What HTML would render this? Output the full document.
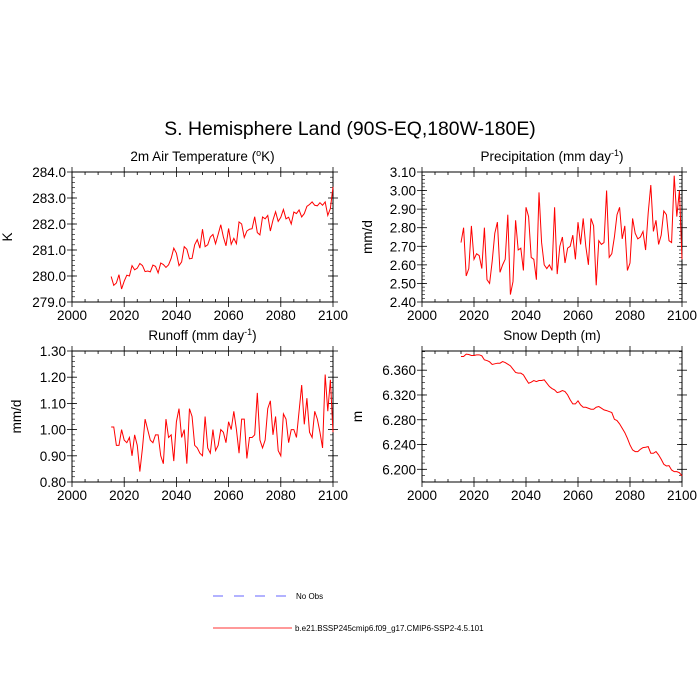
<!DOCTYPE html>
<html><head><meta charset="utf-8"><style>
body{margin:0;background:#fff;}
svg{display:block;font-family:"Liberation Sans",Arial,sans-serif;}
</style></head><body>
<svg id="chart" width="700" height="700" viewBox="0 0 700 700" xmlns="http://www.w3.org/2000/svg">
<rect width="700" height="700" fill="#fff"/>
<text x="350" y="135" font-size="19.4" text-anchor="middle">S. Hemisphere Land (90S-EQ,180W-180E)</text>
<g id="panels"></g>
<g>
<line x1="213" y1="596" x2="287" y2="596" stroke="#6666ff" stroke-width="1" stroke-dasharray="10,11"/>
<text x="296" y="599" font-size="8">No Obs</text>
<line x1="213" y1="628" x2="292" y2="628" stroke="#ff3333" stroke-width="1"/>
<text x="295" y="631" font-size="8">b.e21.BSSP245cmip6.f09_g17.CMIP6-SSP2-4.5.101</text>
</g>
</svg>
<script>
const years = []; for (let y = 2015; y <= 2100; y++) years.push(y);
const xTicks = [2000, 2020, 2040, 2060, 2080, 2100];
const tempValues = [279.98,279.64,279.73,280.05,279.5,279.8,280.03,280.0,280.4,280.24,280.3,280.48,280.4,280.17,280.19,280.16,280.42,280.37,280.12,280.5,280.44,280.33,280.43,280.68,281.07,280.88,280.4,280.54,281.13,281.03,280.66,280.68,281.2,281.4,281.07,281.8,281.13,281.2,281.5,281.6,281.24,281.6,281.97,281.5,281.16,281.83,281.22,281.45,281.24,282.08,282.0,281.48,281.73,281.8,281.82,282.28,281.67,281.58,282.27,282.2,282.33,281.73,282.15,282.47,282.1,282.26,282.56,282.2,282.26,282.0,282.46,282.4,282.54,282.27,282.4,282.68,282.75,282.85,282.72,282.7,282.82,282.72,282.85,282.33,282.6,283.43];
const precValues = [2.72,2.80,2.54,2.58,2.81,2.63,2.66,2.65,2.58,2.80,2.52,2.50,2.62,2.77,2.83,2.56,2.60,2.63,2.87,2.44,2.51,2.84,2.68,2.69,2.57,2.91,2.86,2.64,2.63,2.52,2.99,2.72,2.60,2.58,2.60,2.57,2.91,2.55,2.70,2.75,2.61,2.69,2.70,2.76,2.63,2.83,2.71,2.85,2.70,2.60,2.85,2.81,2.49,2.73,2.71,2.72,3.00,2.64,2.66,2.75,2.87,2.91,2.74,2.81,2.57,2.61,2.85,2.77,2.74,2.75,2.78,2.68,2.88,3.03,2.78,2.84,2.71,2.76,2.89,2.87,2.73,2.72,3.08,2.86,3.00,2.63];
const runoffValues = [1.01,1.01,0.94,0.94,1.00,0.96,0.95,0.97,0.90,0.98,0.94,0.84,0.93,1.04,1.00,0.96,0.95,0.98,0.98,0.90,0.87,1.04,0.97,0.98,0.88,1.03,1.08,0.97,1.00,0.87,1.08,1.05,0.94,0.93,0.91,0.90,1.05,0.93,0.91,1.00,0.92,0.94,1.00,0.99,0.95,1.03,1.00,1.07,1.00,0.91,1.04,1.04,0.89,0.97,0.97,0.98,1.14,0.96,0.93,0.96,1.08,1.11,0.98,1.05,0.92,0.90,1.06,1.04,0.95,1.00,1.00,0.97,1.07,1.17,1.02,1.12,0.99,0.97,1.07,1.04,0.99,0.93,1.21,1.07,1.19,0.99];
const snowValues = [6.3821,6.3821,6.3859,6.3853,6.3837,6.3837,6.3848,6.3848,6.3832,6.3767,6.3756,6.3735,6.3692,6.3703,6.3713,6.3713,6.3740,6.3724,6.3697,6.3670,6.3616,6.3563,6.3552,6.3552,6.3525,6.3455,6.3390,6.3406,6.3433,6.3417,6.3433,6.3433,6.3444,6.3390,6.3336,6.3304,6.3282,6.3239,6.3250,6.3272,6.3255,6.3202,6.3121,6.3056,6.3056,6.3105,6.3040,6.3002,6.3002,6.2986,6.2970,6.2970,6.3002,6.3013,6.2986,6.2959,6.2948,6.2932,6.2916,6.2808,6.2787,6.2733,6.2663,6.2593,6.2501,6.2393,6.2313,6.2286,6.2286,6.2323,6.2350,6.2356,6.2366,6.2259,6.2259,6.2286,6.2232,6.2162,6.2081,6.2054,6.2059,6.1989,6.1962,6.1962,6.1946,6.1892];
const tempTicks = [279,280,281,282,283,284];
const precTicks = [2.4,2.5,2.6,2.7,2.8,2.9,3.0,3.1];
const runoffTicks = [0.8,0.9,1.0,1.1,1.2,1.3];
const snowTicks = [6.2,6.24,6.28,6.32,6.36];

const NS = "http://www.w3.org/2000/svg";
const root = document.getElementById('panels');
const FS = 13.5;
function mk(tag, attrs, parent) {
  const e = document.createElementNS(NS, tag);
  for (const k in attrs) e.setAttribute(k, attrs[k]);
  parent.appendChild(e); return e;
}
function panel(cfg) {
  const g = mk('g', {}, root);
  
  
  const L = cfg.x0, R = cfg.x1, T = cfg.y0, B = cfg.y1;
  const xs = v => L + (v - 2000) / 100 * (R - L);
  const ys = v => B - (v - cfg.ymin) / (cfg.ymax - cfg.ymin) * (B - T);
  mk('rect', {x: L, y: T, width: R - L, height: B - T, fill: 'none', stroke: '#000', 'stroke-width': 1}, g);
  for (let yr = 2000; yr <= 2100; yr += 5) {
    const x = xs(yr), major = yr % 20 === 0;
    const len = major ? 5 : 3;
    mk('line', {x1: x, y1: B, x2: x, y2: B - len, stroke: '#000', 'stroke-width': 0.8}, g);
    mk('line', {x1: x, y1: T, x2: x, y2: T + len, stroke: '#000', 'stroke-width': 0.8}, g);
    if (major) {
      mk('line', {x1: x, y1: B, x2: x, y2: B + 5, stroke: '#000', 'stroke-width': 0.8}, g);
      mk('line', {x1: x, y1: T, x2: x, y2: T - 5, stroke: '#000', 'stroke-width': 0.8}, g);
    }
  }
  xTicks.forEach(v => {
    const t = mk('text', {x: xs(v), y: B + 18, 'font-size': FS, 'text-anchor': 'middle'}, g);
    
    
    t.textContent = v;
  });
  const step = cfg.ticks[1] - cfg.ticks[0];
  const mstep = step / cfg.minor;
  for (let v = cfg.ticks[0] - step; v <= cfg.ymax + 1e-9; v += mstep) {
    if (v < cfg.ymin - 1e-9) continue;
    const y = ys(v);
    mk('line', {x1: L, y1: y, x2: L + 3, y2: y, stroke: '#000', 'stroke-width': 0.6}, g);
    mk('line', {x1: R, y1: y, x2: R - 3, y2: y, stroke: '#000', 'stroke-width': 0.6}, g);
  }
  cfg.ticks.forEach(v => {
    const y = ys(v);
    mk('line', {x1: L - 5, y1: y, x2: L + 5, y2: y, stroke: '#000', 'stroke-width': 0.8}, g);
    mk('line', {x1: R + 5, y1: y, x2: R - 5, y2: y, stroke: '#000', 'stroke-width': 0.8}, g);
    const t = mk('text', {x: L - 6, y: y + 5, 'font-size': FS, 'text-anchor': 'end'}, g);
    
    
    t.textContent = v.toFixed(cfg.dec);
  });
  const yt = mk('text', {x: cfg.ylabX, y: (T + B) / 2, 'font-size': FS, 'text-anchor': 'middle', transform: `rotate(-90 ${cfg.ylabX} ${(T + B) / 2})`}, g);
  
  
  yt.textContent = cfg.ylab;
  const tt = mk('text', {x: (L + R) / 2, y: T - 11, 'font-size': FS, 'text-anchor': 'middle'}, g);
  
  
  tt.innerHTML = cfg.title;
  const d = cfg.values.map((v, i) => (i ? 'L' : 'M') + xs(years[i]).toFixed(2) + ',' + ys(v).toFixed(2)).join('');
  const p = mk('path', {d: d, fill: 'none', stroke: '#ff0000', 'stroke-width': 1}, g);
  
  
}
panel({name: 'temperature-panel', x0: 72, x1: 333, y0: 172, y1: 302, ymin: 279, ymax: 284, ticks: tempTicks, minor: 5, dec: 1, values: tempValues, ylab: 'K', ylabX: 12, title: '2m Air Temperature (<tspan baseline-shift="super" font-size="9">o</tspan>K)'});
panel({name: 'precipitation-panel', x0: 422, x1: 682, y0: 172, y1: 302, ymin: 2.4, ymax: 3.1, ticks: precTicks, minor: 5, dec: 2, values: precValues, ylab: 'mm/d', ylabX: 372, title: 'Precipitation (mm day<tspan baseline-shift="super" font-size="9">-1</tspan>)'});
panel({name: 'runoff-panel', x0: 72, x1: 333, y0: 351, y1: 482, ymin: 0.8, ymax: 1.3, ticks: runoffTicks, minor: 5, dec: 2, values: runoffValues, ylab: 'mm/d', ylabX: 21, title: 'Runoff (mm day<tspan baseline-shift="super" font-size="9">-1</tspan>)'});
panel({name: 'snow-depth-panel', x0: 422, x1: 682, y0: 351, y1: 482, ymin: 6.1795, ymax: 6.391, ticks: snowTicks, minor: 4, dec: 3, values: snowValues, ylab: 'm', ylabX: 362, title: 'Snow Depth (m)'});
</script>
</body></html>
